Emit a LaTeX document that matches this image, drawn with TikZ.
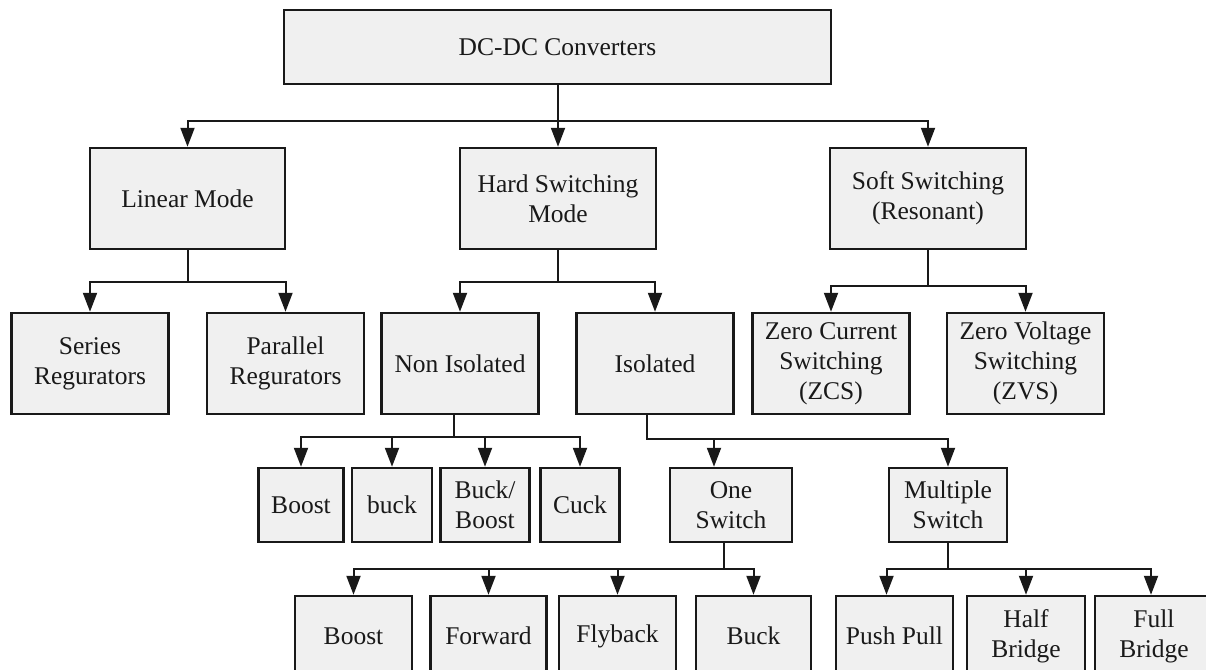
\documentclass[tikz,border=0pt]{standalone}
\usepackage{fontspec}
\setmainfont{Liberation Serif}
\usetikzlibrary{arrows.meta,positioning}
\definecolor{ink}{RGB}{25,25,25}
\definecolor{soft}{RGB}{240,240,240}
\tikzset{
  blk/.style={draw=ink,line width=2.5pt,fill=soft,inner sep=0pt,align=center,
    font=\fontsize{25.5}{30}\selectfont,text=ink},
  ar/.style={draw=ink,line width=2pt,-{Triangle[length=19pt,width=14pt]}},
}

\begin{document}
\begin{tikzpicture}[x=1pt,y=-1pt]
  \path[use as bounding box,clip] (0,0) rectangle (1206,669);
  \fill[white] (0,0) rectangle (1206,669);
  % top
  \node[blk,minimum width=547pt,minimum height=74pt] (dcdc) at (557.5,47) {DC-DC Converters};
  % first level
  \node[blk,minimum width=195pt,minimum height=101pt] (lin) at (187.5,198.5) {Linear Mode};
  \node[blk,minimum width=196pt,minimum height=101pt] (hard) at (558,198.5) {Hard Switching\\Mode};
  \node[blk,minimum width=196pt,minimum height=101pt] (soft) at (928,198.5) {Soft Switching\\(Resonant)};
  % second level
  \node[blk,minimum width=157pt,minimum height=101pt] (ser) at (90,363.5) {Series\\Regurators};
  \node[blk,minimum width=157pt,minimum height=101pt] (par) at (285.5,363.5) {Parallel\\Regurators};
  \node[blk,minimum width=157pt,minimum height=101pt] (noniso) at (460,363.5) {Non Isolated};
  \node[blk,minimum width=157pt,minimum height=101pt] (iso) at (655,363.5) {Isolated};
  \node[blk,minimum width=157pt,minimum height=101pt] (zcs) at (831,363.5) {Zero Current\\Switching\\(ZCS)};
  \node[blk,minimum width=157pt,minimum height=101pt] (zvs) at (1025.5,363.5) {Zero Voltage\\Switching\\(ZVS)};
  % third level
  \node[blk,minimum width=85pt,minimum height=74pt] (boostA) at (301,505) {Boost};
  \node[blk,minimum width=80pt,minimum height=74pt] (buckA) at (392,505) {buck};
  \node[blk,minimum width=89pt,minimum height=74pt] (bb) at (485,505) {Buck/\\Boost};
  \node[blk,minimum width=79pt,minimum height=74pt] (cuk) at (580,505) {Cuck};
  \node[blk,minimum width=122pt,minimum height=74pt] (one) at (731,505) {One\\Switch};
  \node[blk,minimum width=118pt,minimum height=74pt] (multi) at (948,505) {Multiple\\Switch};
  % fourth level
  \node[blk,minimum width=117pt,minimum height=80pt] (boostB) at (353.5,636) {Boost};
  \node[blk,minimum width=116pt,minimum height=80pt] (fwd) at (488.5,636) {Forward};
  \node[blk,minimum width=117pt,minimum height=80pt] (fly) at (617.5,636) {Flyback};
  \node[blk,minimum width=115pt,minimum height=80pt] (buckB) at (753.5,636) {Buck};
  \node[blk,minimum width=117pt,minimum height=80pt] (pp) at (894.5,636) {Push Pull};
  \node[blk,minimum width=118pt,minimum height=80pt] (half) at (1026,636) {Half\\Bridge};
  \node[blk,minimum width=118pt,minimum height=80pt] (full) at (1154,636) {Full\\Bridge};
  % connectors
  \foreach \c in {lin,hard,soft}
    \draw[ar] (dcdc.south) -- ++(0,36) -| (\c.north);
  \foreach \c in {ser,par}
    \draw[ar] (lin.south) -- ++(0,32) -| (\c.north);
  \foreach \c in {noniso,iso}
    \draw[ar] (hard.south) -- ++(0,32) -| (\c.north);
  \foreach \c in {zcs,zvs}
    \draw[ar] (soft.south) -- ++(0,36) -| (\c.north);
  \foreach \c in {boostA,buckA,bb,cuk}
    \draw[ar] ([xshift=-6pt]noniso.south) -- ++(0,22) -| (\c.north);
  \draw[ar] ([xshift=-8pt]iso.south) -- ++(0,24) -| ([xshift=-17pt]one.north);
  \draw[ar] ([xshift=-8pt]iso.south) -- ++(0,24) -| (multi.north);
  \foreach \c in {boostB,fwd,fly,buckB}
    \draw[ar] ([xshift=-7pt]one.south) -- ++(0,26) -| (\c.north);
  \draw[ar] (multi.south) -- ++(0,26) -| ([xshift=-8pt]pp.north);
  \draw[ar] (multi.south) -- ++(0,26) -| (half.north);
  \draw[ar] (multi.south) -- ++(0,26) -| ([xshift=-3pt]full.north);
\end{tikzpicture}
\end{document}
